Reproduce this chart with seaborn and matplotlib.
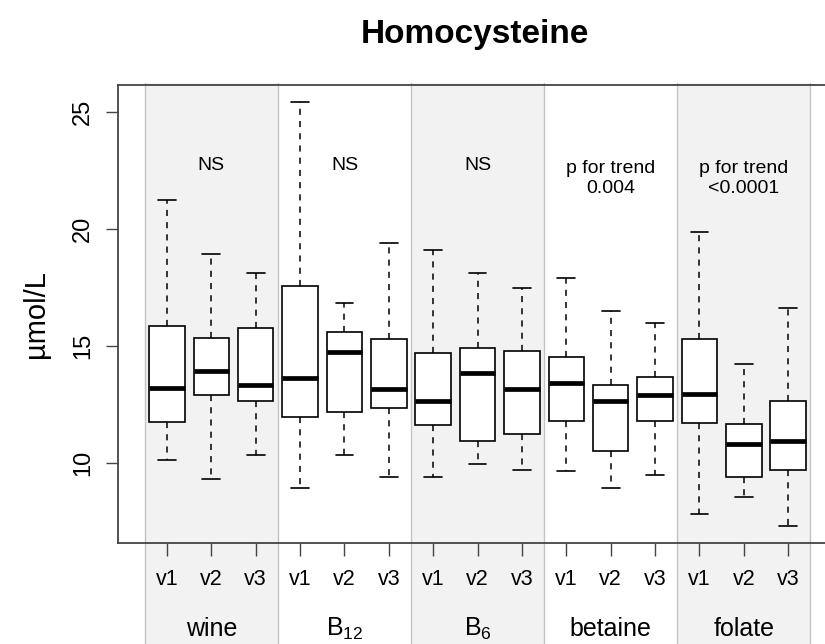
import numpy as np
import pandas as pd
import seaborn as sns
import matplotlib.pyplot as plt
from matplotlib.patches import Rectangle
from matplotlib.transforms import blended_transform_factory

# five-number summaries (lower whisker, Q1, median, Q3, upper whisker)
groups = ['wine', 'B12', 'B6', 'betaine', 'folate']
group_labels = ['wine', r'B$_{\mathregular{12}}$', r'B$_{\mathregular{6}}$', 'betaine', 'folate']
visits = ['v1', 'v2', 'v3']
p_labels = ['NS', 'NS', 'NS', 'p for trend\n0.004', 'p for trend\n<0.0001']

wine = [[10.14, 11.76, 13.23, 15.86, 21.23],
        [9.34, 12.90, 13.95, 15.36, 18.93],
        [10.34, 12.66, 13.34, 15.76, 18.13]]
b12 = [[8.93, 11.99, 13.63, 17.56, 25.40],
       [10.34, 12.21, 14.75, 15.59, 16.83],
       [9.40, 12.37, 13.16, 15.30, 19.40]]
b6 = [[9.40, 11.63, 12.66, 14.72, 19.09],
      [9.96, 10.96, 13.84, 14.93, 18.13],
      [9.73, 11.25, 13.16, 14.79, 17.49]]
betaine = [[9.67, 11.80, 13.44, 14.52, 17.93],
           [8.93, 10.52, 12.66, 13.34, 16.51],
           [9.50, 11.80, 12.90, 13.69, 16.01]]
folate = [[7.82, 11.71, 12.97, 15.32, 19.88],
          [8.55, 9.40, 10.81, 11.69, 14.24],
          [7.33, 9.73, 10.96, 12.64, 16.64]]
summaries = [wine, b12, b6, betaine, folate]

rows = []
for g, boxes in zip(groups, summaries):
    for v, five in zip(visits, boxes):
        for val in five:
            rows.append({'box': f'{g} {v}', 'value': val})
df = pd.DataFrame(rows)
order = [f'{g} {v}' for g in groups for v in visits]

sns.set_style('white')
plt.rcParams['font.family'] = ['Liberation Sans', 'DejaVu Sans']
plt.rcParams['mathtext.fontset'] = 'custom'
plt.rcParams['mathtext.rm'] = 'Liberation Sans'
for key in ['text.color', 'axes.labelcolor', 'xtick.labelcolor', 'ytick.labelcolor']:
    plt.rcParams[key] = 'black'

fig = plt.figure(figsize=(8.25, 6.44), dpi=100)
ax = fig.add_axes([0.143, 0.1568, 0.857, 0.711])

# alternating shaded bands, running from above the plot down into the label area
trans = blended_transform_factory(ax.transData, fig.transFigure)
for i in range(len(groups)):
    left = 3 * i - 0.5
    if i % 2 == 0:
        ax.add_patch(Rectangle((left, 0), 3, 0.871, transform=trans,
                               facecolor='#f2f2f2', edgecolor='none',
                               clip_on=False, zorder=0.2))
for i in range(len(groups) + 1):
    ax.plot([3 * i - 0.5] * 2, [0, 0.871], transform=trans, color='#c4c4c4',
            lw=1.0, clip_on=False, zorder=0.3)

sns.boxplot(data=df, x='box', y='value', order=order, whis=np.inf,
            width=0.8, color='white', linecolor='black', linewidth=1.2,
            showfliers=False, ax=ax,
            medianprops=dict(color='black', linewidth=3.4),
            whiskerprops=dict(color='black', linestyle=(0, (4, 4)), linewidth=1.1),
            capprops=dict(color='black', linewidth=1.2))

ax.set_xlim(-1.104, 14.83)
ax.set_ylim(6.6, 26.14)
ax.set_xticks(range(len(order)))
ax.set_xticklabels(visits * len(groups), fontsize=15.5)
ax.set_yticks([10, 15, 20, 25])
ax.set_yticklabels(['10', '15', '20', '25'], fontsize=17, rotation=90, va='center')
ax.tick_params(axis='both', direction='out', length=9, width=1.0, color='#444444',
               bottom=True, left=True)
ax.tick_params(axis='x', pad=10)
ax.tick_params(axis='y', pad=8)
ax.set_xlabel('')
ax.set_ylabel('µmol/L', fontsize=21, labelpad=16)

for s in ['left', 'top', 'bottom']:
    ax.spines[s].set_color('#444444')
    ax.spines[s].set_linewidth(1.3)
ax.spines['right'].set_visible(False)

for i, (lab, p) in enumerate(zip(group_labels, p_labels)):
    ax.text(3 * i + 1, -0.188, lab, transform=blended_transform_factory(ax.transData, ax.transAxes),
            ha='center', va='center', fontsize=18)
    ypos = 22.7 if '\n' not in p else 22.16
    ax.text(3 * i + 1, ypos, p, ha='center', va='center', fontsize=14, linespacing=1.2)

fig.text(475 / 825, 1 - 34 / 644, 'Homocysteine', ha='center', va='center',
         fontsize=24, fontweight='bold')

fig.savefig('out.png', dpi=100)
